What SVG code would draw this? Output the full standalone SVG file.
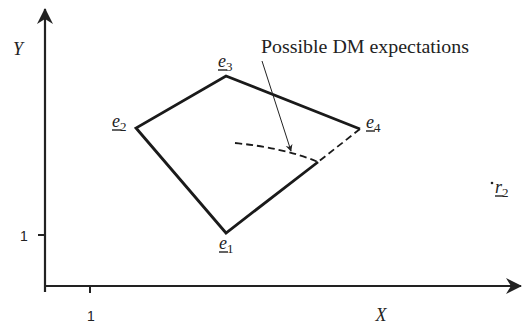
<svg xmlns="http://www.w3.org/2000/svg" width="523" height="326" viewBox="0 0 523 326">
<style>
.ax{stroke:#222;stroke-width:2.2;fill:none}
.tk{stroke:#222;stroke-width:2;fill:none}
.poly{stroke:#1a1a1a;stroke-width:2.8;fill:none;stroke-linejoin:miter}
.dash{stroke:#1a1a1a;stroke-width:1.8;fill:none;stroke-dasharray:7,4}
.lab{font-family:"Liberation Serif","Times New Roman",serif;font-style:italic;font-size:18px;fill:#222}
.sub{font-family:"Liberation Serif","Times New Roman",serif;font-style:normal;font-size:13px;fill:#222}
.num{font-family:"Liberation Sans",Arial,sans-serif;font-size:14px;fill:#222}
.txt{font-family:"Liberation Serif","Times New Roman",serif;font-size:18px;fill:#222}
.ul{stroke:#222;stroke-width:1.4}
</style>
<defs>
<marker id="ah" viewBox="0 0 10 10" refX="9" refY="5" markerWidth="7" markerHeight="9" markerUnits="userSpaceOnUse" orient="auto">
<path d="M0,0 L10,5 L0,10 L3,5 z" fill="#222"/>
</marker>
<marker id="axh" viewBox="0 0 16 16" refX="15" refY="8" markerWidth="16" markerHeight="16" markerUnits="userSpaceOnUse" orient="auto">
<path d="M0,0 L16,8 L0,16 L5,8 z" fill="#222"/>
</marker>
</defs>
<g id="axes">
<line class="ax" x1="45" y1="292" x2="45" y2="9" marker-end="url(#axh)"/>
<line class="ax" x1="44" y1="286" x2="521" y2="286" marker-end="url(#axh)"/>
<line class="tk" x1="90" y1="286" x2="90" y2="293"/>
<line class="tk" x1="38" y1="235" x2="45" y2="235"/>
<text class="num" x="24" y="241" text-anchor="middle">1</text>
<text class="num" x="91" y="321" text-anchor="middle">1</text>
<text class="lab" x="18" y="55" text-anchor="middle">Y</text>
<text class="lab" x="381" y="321" text-anchor="middle">X</text>
</g>
<g id="polygon">
<polyline class="poly" points="318,162 226,233 136,128 226,76 360,129"/>
<line class="dash" x1="360" y1="129" x2="318" y2="162"/>
</g>
<g id="expectations">
<path class="dash" d="M235,143 Q285,148 318,162"/>
</g>
<g id="connectors">
<line stroke="#222" stroke-width="1" x1="262" y1="61" x2="291" y2="151" marker-end="url(#ah)"/>
</g>
<g id="label">
<text class="txt" x="261" y="53" textLength="208" lengthAdjust="spacingAndGlyphs">Possible DM expectations</text>
</g>
<g id="e1">
<text class="lab" x="219" y="249">e<tspan class="sub" dy="4">1</tspan></text>
<line class="ul" x1="219" y1="252" x2="228" y2="252"/>
</g>
<g id="e2">
<text class="lab" x="112" y="127">e<tspan class="sub" dy="4">2</tspan></text>
<line class="ul" x1="112" y1="130" x2="121" y2="130"/>
</g>
<g id="e3">
<text class="lab" x="218" y="67">e<tspan class="sub" dy="4">3</tspan></text>
<line class="ul" x1="218" y1="70" x2="227" y2="70"/>
</g>
<g id="e4">
<text class="lab" x="366" y="128">e<tspan class="sub" dy="4">4</tspan></text>
<line class="ul" x1="366" y1="131" x2="375" y2="131"/>
</g>
<g id="r2">
<circle cx="492" cy="183" r="1.3" fill="#222"/>
<text class="lab" x="495" y="193">r<tspan class="sub" dy="4">2</tspan></text>
<line class="ul" x1="495" y1="196" x2="503" y2="196"/>
</g>
</svg>
